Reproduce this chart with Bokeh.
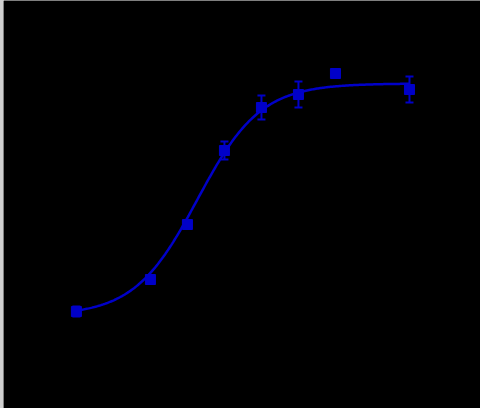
import numpy as np
from bokeh.plotting import figure
from bokeh.models import Whisker, ColumnDataSource
from bokeh.embed import file_html
from bokeh.resources import INLINE

log_conc = [-9, -7, -6, -5, -4, -3, -2, 0]
response = [97, 129, 184, 258, 301, 314, 335, 319]
err = [5, 2, 3, 9, 12, 13, 0, 13]

bottom, top, logec50, hill = 93, 325, -5.73, 0.51
color = "#0000c8"

p = figure(width=480, height=408, x_range=(-10.97, 2.0), y_range=(0, 408),
           output_backend="svg", toolbar_location=None, min_border=0,
           background_fill_color="black", border_fill_color="black",
           outline_line_color=None, styles={"border-left": "3px solid #d0d0d0"})
p.axis.visible = False
p.grid.visible = False

xc = np.linspace(-9, 0, 300)
yc = bottom + (top - bottom) / (1 + 10 ** ((logec50 - xc) * hill))
p.line(xc, yc, line_color=color, line_width=2.5)

src = ColumnDataSource(dict(x=log_conc, y=response,
                            lo=[r - e for r, e in zip(response, err)],
                            hi=[r + e for r, e in zip(response, err)]))
w = Whisker(source=src, base="x", lower="lo", upper="hi", line_color=color, line_width=2)
w.upper_head.line_color = color
w.lower_head.line_color = color
w.upper_head.line_width = 2
w.lower_head.line_width = 2
w.upper_head.size = 8
w.lower_head.size = 8
p.add_layout(w)
p.scatter("x", "y", source=src, marker="square", size=10, fill_color=color, line_color=color)

open("out.html", "w").write(file_html(p, INLINE))
